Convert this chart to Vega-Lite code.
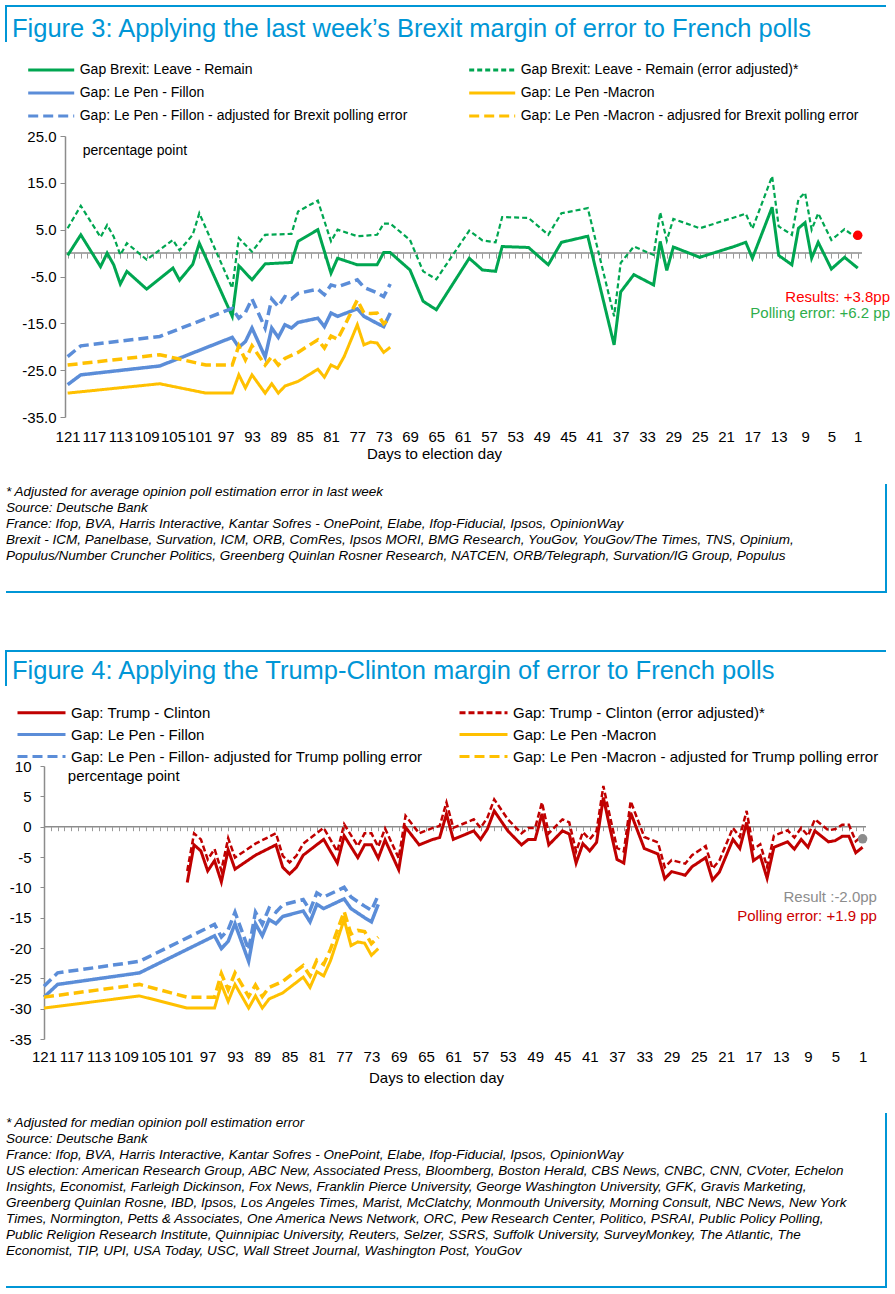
{
  "$schema": "https://vega.github.io/schema/vega-lite/v6.json",
  "padding": {"left": 5, "top": 5, "right": 0, "bottom": 0},
  "background": "#ffffff",
  "config": {
    "font": "Liberation Sans",
    "view": {"stroke": null},
    "mark": {"invalid": "filter"},
    "line": {"invalid": "filter"},
    "axis": {"labelColor": "#000000", "titleColor": "#000000", "labelFont": "Liberation Sans", "titleFont": "Liberation Sans", "grid": false},
    "legend": {"labelFont": "Liberation Sans"},
    "title": {"font": "Liberation Sans"},
    "text": {"font": "Liberation Sans"}
  },
  "datasets": {
    "brexit": [
      {"day":121,"leave":-0.5,"adj":5.3},{"day":119,"leave":3.9,"adj":10.1},{"day":116,"leave":-2.9,"adj":3.4},
      {"day":115,"leave":0.0,"adj":6.0},{"day":114,"leave":-2.5,"adj":3.5},{"day":113,"leave":-6.6,"adj":-0.4},
      {"day":112,"leave":-3.9,"adj":2.1},{"day":109,"leave":-7.7,"adj":-1.4},{"day":105,"leave":-3.2,"adj":2.8},
      {"day":104,"leave":-5.8,"adj":0.6},{"day":102,"leave":-2.4,"adj":3.9},{"day":101,"leave":2.1,"adj":8.5},
      {"day":96,"leave":-13.5,"adj":-7.5},{"day":95,"leave":-2.7,"adj":3.2},{"day":93,"leave":-5.7,"adj":0.3},
      {"day":91,"leave":-2.3,"adj":3.9},{"day":87,"leave":-2.0,"adj":4.1},{"day":86,"leave":2.5,"adj":8.9},
      {"day":83,"leave":5.0,"adj":11.2},{"day":81,"leave":-4.3,"adj":2.5},{"day":80,"leave":-1.1,"adj":5.0},
      {"day":77,"leave":-2.5,"adj":3.6},{"day":74,"leave":-2.5,"adj":3.9},{"day":73,"leave":0.1,"adj":6.3},
      {"day":72,"leave":0.1,"adj":6.3},{"day":69,"leave":-3.6,"adj":2.8},{"day":67,"leave":-10.3,"adj":-3.9},
      {"day":65,"leave":-12.1,"adj":-5.6},{"day":60,"leave":-1.1,"adj":4.8},{"day":58,"leave":-3.6,"adj":2.7},
      {"day":56,"leave":-3.9,"adj":2.3},{"day":55,"leave":1.4,"adj":7.7},{"day":51,"leave":1.2,"adj":7.5},
      {"day":48,"leave":-2.5,"adj":3.9},{"day":46,"leave":2.3,"adj":8.5},{"day":42,"leave":3.6,"adj":9.6},
      {"day":38,"leave":-19.6,"adj":-13.5},{"day":37,"leave":-8.3,"adj":-2.1},{"day":35,"leave":-4.6,"adj":1.4},
      {"day":32,"leave":-6.8,"adj":-0.4},{"day":31,"leave":2.5,"adj":8.7},{"day":30,"leave":-3.7,"adj":2.7},
      {"day":29,"leave":1.3,"adj":7.3},{"day":25,"leave":-0.9,"adj":5.3},{"day":20,"leave":1.3,"adj":7.5},
      {"day":18,"leave":2.3,"adj":8.4},{"day":17,"leave":-1.1,"adj":5.2},{"day":14,"leave":9.8,"adj":16.4},
      {"day":13,"leave":-0.5,"adj":5.7},{"day":11,"leave":-2.5,"adj":3.9},{"day":10,"leave":5.3,"adj":11.5},
      {"day":9,"leave":6.5,"adj":12.9},{"day":8,"leave":-1.1,"adj":5.0},{"day":7,"leave":2.3,"adj":8.5},
      {"day":5,"leave":-3.4,"adj":2.8},{"day":3,"leave":-0.9,"adj":5.1},{"day":1,"leave":-3.2,"adj":3.0}
    ],
    "french": [
      {"day":121,"fillon":-28.1,"macron":-29.9,"fillonB":-22.1,"macronB":-23.9,"fillonT":-26.3,"macronT":-28.1},
      {"day":119,"fillon":-26.0,"fillonB":-19.8,"fillonT":-24.1},
      {"day":107,"fillon":-24.1,"macron":-27.9,"fillonB":-17.8,"macronB":-21.7,"fillonT":-22.2,"macronT":-26.0},
      {"day":100,"macron":-29.9,"macronB":-23.9,"macronT":-28.1},
      {"day":96,"fillon":-18.0,"macron":-29.9,"fillonB":-11.8,"macronB":-23.9,"fillonT":-16.1,"macronT":-28.1},
      {"day":95,"fillon":-20.1,"macron":-26.0,"fillonB":-13.9,"macronB":-19.8,"fillonT":-18.2,"macronT":-24.2},
      {"day":94,"fillon":-18.9,"macron":-28.8,"fillonB":-12.7,"macronB":-22.8,"fillonT":-17.0,"macronT":-26.9},
      {"day":93,"fillon":-16.0,"macron":-26.0,"fillonB":-9.8,"macronB":-19.8,"fillonT":-14.1,"macronT":-24.1},
      {"day":91,"fillon":-22.2,"macron":-29.9,"fillonB":-16.0,"macronB":-23.9,"fillonT":-20.3,"macronT":-28.0},
      {"day":90,"fillon":-16.0,"macron":-27.9,"fillonB":-9.8,"macronB":-22.1,"fillonT":-14.1,"macronT":-26.1},
      {"day":89,"fillon":-18.0,"macron":-29.9,"fillonB":-11.4,"macronB":-23.9,"fillonT":-16.1,"macronT":-28.0},
      {"day":88,"fillon":-15.3,"macron":-28.4,"fillonB":-9.3,"macronB":-22.5,"fillonT":-13.4,"macronT":-26.5},
      {"day":87,"fillon":-16.0,"fillonB":-9.8,"fillonT":-14.1},
      {"day":86,"fillon":-14.8,"macron":-27.4,"fillonB":-8.6,"macronB":-21.2,"fillonT":-12.9,"macronT":-25.5},
      {"day":83,"fillon":-13.9,"macron":-24.8,"fillonB":-7.7,"macronB":-18.5,"fillonT":-12.0,"macronT":-22.9},
      {"day":82,"fillon":-15.7,"macron":-26.5,"fillonB":-8.9,"macronB":-20.3,"fillonT":-13.8,"macronT":-24.6},
      {"day":81,"fillon":-12.8,"macron":-23.9,"fillonB":-6.8,"macronB":-17.7,"fillonT":-10.9,"macronT":-22.0},
      {"day":80,"fillon":-13.5,"macron":-24.6,"fillonB":-7.2,"macronB":-18.4,"fillonT":-11.6,"macronT":-22.7},
      {"day":79,"macron":-22.1,"macronB":-15.7,"macronT":-20.2},
      {"day":77,"fillon":-11.9,"macron":-15.3,"fillonB":-5.7,"macronB":-10.0,"fillonT":-10.0,"macronT":-14.0},
      {"day":76,"fillon":-13.5,"macron":-19.6,"fillonB":-7.3,"macronB":-12.8,"fillonT":-11.6,"macronT":-17.7},
      {"day":75,"macron":-19.0,"macronB":-12.9,"macronT":-17.1},
      {"day":74,"fillon":-15.0,"macron":-19.2,"fillonB":-8.5,"macronB":-12.8,"fillonT":-13.1,"macronT":-17.3},
      {"day":73,"fillon":-15.7,"macron":-21.2,"fillonB":-9.3,"macronB":-15.1,"fillonT":-13.8,"macronT":-19.3},
      {"day":72,"fillon":-12.8,"macron":-20.1,"fillonB":-6.6,"macronB":-13.9,"fillonT":-11.3,"macronT":-18.2}
    ],
    "trump": [
      {"day":100,"gap":-9.2,"adj":-7.3},{"day":99,"gap":-3.0,"adj":-1.1},{"day":98,"gap":-4.0,"adj":-2.1},
      {"day":97,"gap":-7.3,"adj":-5.4},{"day":96,"gap":-5.6,"adj":-3.7},{"day":95,"gap":-9.1,"adj":-7.2},
      {"day":94,"gap":-3.8,"adj":-1.9},{"day":93,"gap":-7.0,"adj":-5.1},{"day":90,"gap":-4.7,"adj":-2.8},
      {"day":87,"gap":-3.0,"adj":-1.1},{"day":86,"gap":-6.7,"adj":-4.8},{"day":85,"gap":-7.8,"adj":-5.9},
      {"day":84,"gap":-6.7,"adj":-4.8},{"day":83,"gap":-4.7,"adj":-2.8},{"day":80,"gap":-2.1,"adj":-0.2},
      {"day":78,"gap":-6.0,"adj":-4.1},{"day":77,"gap":-1.5,"adj":0.4},{"day":75,"gap":-5.1,"adj":-3.2},
      {"day":74,"gap":-3.0,"adj":-1.1},{"day":73,"gap":-3.0,"adj":-1.1},{"day":72,"gap":-5.2,"adj":-3.3},
      {"day":71,"gap":-2.2,"adj":-0.3},{"day":69,"gap":-7.1,"adj":-5.2},{"day":68,"gap":-0.1,"adj":1.8},
      {"day":66,"gap":-3.0,"adj":-1.1},{"day":64,"gap":-2.1,"adj":-0.2},{"day":63,"gap":-1.8,"adj":0.1},
      {"day":62,"gap":2.1,"adj":4.0},{"day":61,"gap":-2.1,"adj":-0.2},{"day":58,"gap":-0.7,"adj":1.2},
      {"day":57,"gap":-2.1,"adj":-0.2},{"day":56,"gap":-0.4,"adj":1.5},{"day":55,"gap":2.6,"adj":4.5},
      {"day":53,"gap":-0.7,"adj":1.2},{"day":51,"gap":-3.0,"adj":-1.1},{"day":50,"gap":-2.1,"adj":-0.2},
      {"day":49,"gap":-2.1,"adj":-0.2},{"day":48,"gap":2.1,"adj":4.0},{"day":47,"gap":-3.0,"adj":-1.1},
      {"day":45,"gap":-0.7,"adj":1.2},{"day":44,"gap":-1.2,"adj":0.7},{"day":43,"gap":-6.0,"adj":-4.1},
      {"day":42,"gap":-2.8,"adj":-0.9},{"day":41,"gap":-4.0,"adj":-2.1},{"day":40,"gap":-2.6,"adj":-0.7},
      {"day":39,"gap":4.8,"adj":6.7},{"day":38,"gap":-0.4,"adj":1.5},{"day":37,"gap":-5.4,"adj":-3.5},
      {"day":36,"gap":-6.0,"adj":-4.1},{"day":35,"gap":2.3,"adj":4.2},{"day":33,"gap":-3.6,"adj":-1.7},
      {"day":31,"gap":-4.5,"adj":-2.6},{"day":30,"gap":-8.6,"adj":-6.7},{"day":29,"gap":-7.4,"adj":-5.5},
      {"day":27,"gap":-8.0,"adj":-6.1},{"day":26,"gap":-6.6,"adj":-4.7},{"day":24,"gap":-5.1,"adj":-3.2},
      {"day":23,"gap":-8.8,"adj":-6.9},{"day":22,"gap":-7.5,"adj":-5.6},{"day":20,"gap":-2.1,"adj":-0.2},
      {"day":19,"gap":-3.6,"adj":-1.7},{"day":18,"gap":0.7,"adj":2.6},{"day":17,"gap":-5.6,"adj":-3.7},
      {"day":16,"gap":-4.8,"adj":-2.9},{"day":15,"gap":-8.5,"adj":-6.6},{"day":14,"gap":-3.4,"adj":-1.5},
      {"day":12,"gap":-2.5,"adj":-0.6},{"day":11,"gap":-3.7,"adj":-1.8},{"day":10,"gap":-2.1,"adj":-0.2},
      {"day":9,"gap":-3.4,"adj":-1.5},{"day":8,"gap":-0.7,"adj":1.2},{"day":6,"gap":-2.5,"adj":-0.6},
      {"day":5,"gap":-2.3,"adj":-0.4},{"day":4,"gap":-1.6,"adj":0.3},{"day":3,"gap":-1.6,"adj":0.3},
      {"day":2,"gap":-4.3,"adj":-2.4},{"day":1,"gap":-3.4,"adj":-1.5}
    ]
  },
  "spacing": 57,
  "resolve": {"scale": {"color": "independent", "strokeDash": "independent"}, "legend": {"color": "independent", "strokeDash": "independent"}},
  "vconcat": [
    {
      "spacing": 0,
      "resolve": {"scale": {"color": "independent", "strokeDash": "independent"}, "legend": {"color": "independent", "strokeDash": "independent"}},
      "vconcat": [
        {
          "width": 880, "height": 50,
          "data": {"values": [{}]},
          "mark": {"type": "text"},
          "encoding": {"text": {"value": ""}},
          "view": {"stroke": "#0096D6", "strokeWidth": 2, "strokeDash": [880, 944, 36], "fill": null},
          "title": {"text": "Figure 3: Applying the last week’s Brexit margin of error to French polls", "anchor": "start", "frame": "group", "orient": "top", "offset": -56.5, "baseline": "alphabetic", "dx": 6, "fontSize": 25.5, "fontWeight": "normal", "color": "#0096D6"}
        },
        {
          "width": 856, "height": 281,
          "resolve": {"axis": {"x": "independent", "y": "independent"}},
          "layer": [
            {
              "data": {"values": [{"a": 121.4, "b": 0.35, "v": 0}]},
              "mark": {"type": "rule", "color": "#8c8c8c", "strokeWidth": 1.5},
              "encoding": {
                "x": {"field": "a", "type": "quantitative", "scale": {"domain": [0.35, 130.36], "reverse": true, "nice": false, "zero": false},
                  "axis": {"orient": "bottom", "offset": -163.9, "labels": false, "ticks": true, "values": [1,2,3,4,5,6,7,8,9,10,11,12,13,14,15,16,17,18,19,20,21,22,23,24,25,26,27,28,29,30,31,32,33,34,35,36,37,38,39,40,41,42,43,44,45,46,47,48,49,50,51,52,53,54,55,56,57,58,59,60,61,62,63,64,65,66,67,68,69,70,71,72,73,74,75,76,77,78,79,80,81,82,83,84,85,86,87,88,89,90,91,92,93,94,95,96,97,98,99,100,101,102,103,104,105,106,107,108,109,110,111,112,113,114,115,116,117,118,119,120,121], "tickSize": 5, "tickColor": "#9a9a9a", "tickWidth": 1, "domain": false, "grid": false, "title": null}},
                "x2": {"field": "b"},
                "y": {"field": "v", "type": "quantitative", "scale": {"domain": [-35, 25], "nice": false, "zero": false}, "axis": null}
              }
            },
            {
              "data": {"name": "brexit"},
              "mark": {"type": "line", "strokeWidth": 3, "invalid": "filter"},
              "encoding": {
                "x": {"field": "day", "type": "quantitative", "scale": {"domain": [0.35, 130.36], "reverse": true, "nice": false, "zero": false},
                  "axis": {"orient": "bottom", "values": [121,117,113,109,105,101,97,93,89,85,81,77,73,69,65,61,57,53,49,45,41,37,33,29,25,21,17,13,9,5,1], "format": "d", "domain": false, "ticks": false, "tickSize": 0, "labelPadding": 12, "labelFontSize": 15, "labelOverlap": false, "labelFlush": false, "labelBound": false, "grid": false, "title": "Days to election day", "titleFontSize": 15, "titleFontWeight": "normal", "titlePadding": 2}},
                "y": {"field": "leave", "type": "quantitative", "scale": {"domain": [-35, 25], "nice": false, "zero": false},
                  "axis": {"orient": "left", "offset": -59, "values": [-35,-25,-15,-5,5,15,25], "labelExpr": "replace(format(datum.value, '.1f'), '−', '-')", "labelFontSize": 15, "labelPadding": 4, "tickSize": 5, "tickColor": "#8c8c8c", "domainColor": "#8c8c8c", "domainWidth": 1.5, "grid": false, "title": null}},
                "color": {"datum": "Gap Brexit: Leave - Remain", "type": "nominal",
                  "scale": {"domain": ["Gap Brexit: Leave - Remain", "Gap: Le Pen - Fillon", "Gap: Le Pen  - Fillon - adjusted for Brexit polling error", "Gap Brexit: Leave - Remain (error adjusted)*", "Gap: Le Pen -Macron", "Gap: Le Pen  -Macron - adjusred for Brexit polling error"], "range": ["#00A651", "#5B8DD8", "#5B8DD8", "#00A651", "#FFC000", "#FFC000"]},
                  "legend": {"orient": "none", "legendX": 20.7, "legendY": -79, "columns": 2, "symbolType": "M-1,0H3", "symbolSize": 529, "symbolStrokeWidth": 3, "labelFontSize": 14, "labelOffset": 27, "labelLimit": 600, "columnPadding": 51, "rowPadding": 3, "padding": 0, "title": null, "labelColor": "#000000"}},
                "strokeDash": {"datum": "Gap Brexit: Leave - Remain", "type": "nominal",
                  "scale": {"domain": ["Gap Brexit: Leave - Remain", "Gap: Le Pen - Fillon", "Gap: Le Pen  - Fillon - adjusted for Brexit polling error", "Gap Brexit: Leave - Remain (error adjusted)*", "Gap: Le Pen -Macron", "Gap: Le Pen  -Macron - adjusred for Brexit polling error"], "range": [[1, 0], [1, 0], [10, 5], [5, 3], [1, 0], [10, 5]]},
                  "legend": {"orient": "none", "legendX": 20.7, "legendY": -79, "columns": 2, "symbolType": "M-1,0H3", "symbolSize": 529, "symbolStrokeWidth": 3, "labelFontSize": 14, "labelOffset": 27, "labelLimit": 600, "columnPadding": 51, "rowPadding": 3, "padding": 0, "title": null, "labelColor": "#000000"}}
              }
            },
            {
              "data": {"name": "brexit"},
              "mark": {"type": "line", "strokeWidth": 2.2, "invalid": "filter"},
              "encoding": {
                "x": {"field": "day", "type": "quantitative", "scale": {"domain": [0.35, 130.36], "reverse": true, "nice": false, "zero": false}, "axis": null},
                "y": {"field": "adj", "type": "quantitative", "scale": {"domain": [-35, 25], "nice": false, "zero": false}, "axis": null},
                "color": {"datum": "Gap Brexit: Leave - Remain (error adjusted)*", "type": "nominal"},
                "strokeDash": {"datum": "Gap Brexit: Leave - Remain (error adjusted)*", "type": "nominal"}
              }
            },
            {
              "data": {"name": "french"},
              "mark": {"type": "line", "strokeWidth": 3.5, "invalid": "filter"},
              "encoding": {
                "x": {"field": "day", "type": "quantitative", "scale": {"domain": [0.35, 130.36], "reverse": true, "nice": false, "zero": false}, "axis": null},
                "y": {"field": "fillon", "type": "quantitative", "scale": {"domain": [-35, 25], "nice": false, "zero": false}, "axis": null},
                "color": {"datum": "Gap: Le Pen - Fillon", "type": "nominal"},
                "strokeDash": {"datum": "Gap: Le Pen - Fillon", "type": "nominal"}
              }
            },
            {
              "data": {"name": "french"},
              "mark": {"type": "line", "strokeWidth": 3, "invalid": "filter"},
              "encoding": {
                "x": {"field": "day", "type": "quantitative", "scale": {"domain": [0.35, 130.36], "reverse": true, "nice": false, "zero": false}, "axis": null},
                "y": {"field": "macron", "type": "quantitative", "scale": {"domain": [-35, 25], "nice": false, "zero": false}, "axis": null},
                "color": {"datum": "Gap: Le Pen -Macron", "type": "nominal"},
                "strokeDash": {"datum": "Gap: Le Pen -Macron", "type": "nominal"}
              }
            },
            {
              "data": {"name": "french"},
              "mark": {"type": "line", "strokeWidth": 3.5, "invalid": "filter"},
              "encoding": {
                "x": {"field": "day", "type": "quantitative", "scale": {"domain": [0.35, 130.36], "reverse": true, "nice": false, "zero": false}, "axis": null},
                "y": {"field": "fillonB", "type": "quantitative", "scale": {"domain": [-35, 25], "nice": false, "zero": false}, "axis": null},
                "color": {"datum": "Gap: Le Pen  - Fillon - adjusted for Brexit polling error", "type": "nominal"},
                "strokeDash": {"datum": "Gap: Le Pen  - Fillon - adjusted for Brexit polling error", "type": "nominal"}
              }
            },
            {
              "data": {"name": "french"},
              "mark": {"type": "line", "strokeWidth": 3.5, "invalid": "filter"},
              "encoding": {
                "x": {"field": "day", "type": "quantitative", "scale": {"domain": [0.35, 130.36], "reverse": true, "nice": false, "zero": false}, "axis": null},
                "y": {"field": "macronB", "type": "quantitative", "scale": {"domain": [-35, 25], "nice": false, "zero": false}, "axis": null},
                "color": {"datum": "Gap: Le Pen  -Macron - adjusred for Brexit polling error", "type": "nominal"},
                "strokeDash": {"datum": "Gap: Le Pen  -Macron - adjusred for Brexit polling error", "type": "nominal"}
              }
            },
            {
              "data": {"values": [{"day": 118.7, "value": 21.8, "label": "percentage point"}]},
              "mark": {"type": "text", "align": "left", "baseline": "middle", "fontSize": 14, "color": "#000000"},
              "encoding": {
                "x": {"field": "day", "type": "quantitative", "scale": {"domain": [0.35, 130.36], "reverse": true, "nice": false, "zero": false}, "axis": null},
                "y": {"field": "value", "type": "quantitative", "scale": {"domain": [-35, 25], "nice": false, "zero": false}, "axis": null},
                "text": {"field": "label"}
              }
            },
            {
              "data": {"values": [{"day": -3.9, "value": -9.4, "label": "Results: +3.8pp"}]},
              "mark": {"type": "text", "align": "right", "baseline": "middle", "fontSize": 15, "color": "#FF0000"},
              "encoding": {
                "x": {"field": "day", "type": "quantitative", "scale": {"domain": [0.35, 130.36], "reverse": true, "nice": false, "zero": false}, "axis": null},
                "y": {"field": "value", "type": "quantitative", "scale": {"domain": [-35, 25], "nice": false, "zero": false}, "axis": null},
                "text": {"field": "label"}
              }
            },
            {
              "data": {"values": [{"day": -3.9, "value": -12.8, "label": "Polling error: +6.2 pp"}]},
              "mark": {"type": "text", "align": "right", "baseline": "middle", "fontSize": 15, "color": "#2EAD4B"},
              "encoding": {
                "x": {"field": "day", "type": "quantitative", "scale": {"domain": [0.35, 130.36], "reverse": true, "nice": false, "zero": false}, "axis": null},
                "y": {"field": "value", "type": "quantitative", "scale": {"domain": [-35, 25], "nice": false, "zero": false}, "axis": null},
                "text": {"field": "label"}
              }
            },
            {
              "data": {"values": [{"day": 1, "value": 3.8}]},
              "mark": {"type": "point", "filled": true, "size": 90, "color": "#FF0000", "opacity": 1},
              "encoding": {
                "x": {"field": "day", "type": "quantitative", "scale": {"domain": [0.35, 130.36], "reverse": true, "nice": false, "zero": false}, "axis": null},
                "y": {"field": "value", "type": "quantitative", "scale": {"domain": [-35, 25], "nice": false, "zero": false}, "axis": null}
              }
            }
          ]
        },
        {
          "width": 880, "height": 130,
          "data": {"values": [{}]},
          "mark": {"type": "text"},
          "encoding": {"text": {"value": ""}},
          "view": {"stroke": "#0096D6", "strokeWidth": 2, "strokeDash": [0, 902, 988, 130], "fill": null},
          "title": {"text": ["* Adjusted for average opinion poll estimation error in last week", "Source: Deutsche Bank", "France: Ifop, BVA, Harris Interactive, Kantar Sofres - OnePoint, Elabe, Ifop-Fiducial, Ipsos, OpinionWay", "Brexit - ICM, Panelbase, Survation, ICM, ORB, ComRes, Ipsos MORI, BMG Research, YouGov, YouGov/The Times, TNS, Opinium,", "Populus/Number Cruncher Politics, Greenberg Quinlan Rosner Research, NATCEN, ORB/Telegraph, Survation/IG Group, Populus"], "anchor": "start", "frame": "group", "orient": "top", "offset": -100.5, "baseline": "top", "lineHeight": 16, "fontSize": 13.5, "fontStyle": "italic", "fontWeight": "normal", "color": "#000000", "dx": 0}
        }
      ]
    },
    {
      "spacing": 0,
      "resolve": {"scale": {"color": "independent", "strokeDash": "independent"}, "legend": {"color": "independent", "strokeDash": "independent"}},
      "vconcat": [
        {
          "width": 880, "height": 47,
          "data": {"values": [{}]},
          "mark": {"type": "text"},
          "encoding": {"text": {"value": ""}},
          "view": {"stroke": "#0096D6", "strokeWidth": 2, "strokeDash": [880, 939, 35], "fill": null},
          "title": {"text": "Figure 4: Applying the Trump-Clinton margin of error to French polls", "anchor": "start", "frame": "group", "orient": "top", "offset": -53, "baseline": "alphabetic", "dx": 6, "fontSize": 25.5, "fontWeight": "normal", "color": "#0096D6"}
        },
        {
          "width": 860, "height": 273,
          "resolve": {"axis": {"x": "independent", "y": "independent"}},
          "layer": [
            {
              "data": {"values": [{"a": 121, "b": 0.5, "v": 0}]},
              "mark": {"type": "rule", "color": "#8c8c8c", "strokeWidth": 1.5},
              "encoding": {
                "x": {"field": "a", "type": "quantitative", "scale": {"domain": [0.5, 126.57], "reverse": true, "nice": false, "zero": false},
                  "axis": {"orient": "bottom", "offset": -212.3, "labels": false, "ticks": true, "values": [1,2,3,4,5,6,7,8,9,10,11,12,13,14,15,16,17,18,19,20,21,22,23,24,25,26,27,28,29,30,31,32,33,34,35,36,37,38,39,40,41,42,43,44,45,46,47,48,49,50,51,52,53,54,55,56,57,58,59,60,61,62,63,64,65,66,67,68,69,70,71,72,73,74,75,76,77,78,79,80,81,82,83,84,85,86,87,88,89,90,91,92,93,94,95,96,97,98,99,100,101,102,103,104,105,106,107,108,109,110,111,112,113,114,115,116,117,118,119,120,121], "tickSize": 4, "tickColor": "#9a9a9a", "tickWidth": 1, "domain": false, "grid": false, "title": null}},
                "x2": {"field": "b"},
                "y": {"field": "v", "type": "quantitative", "scale": {"domain": [-35, 10], "nice": false, "zero": false}, "axis": null}
              }
            },
            {
              "data": {"name": "trump"},
              "mark": {"type": "line", "strokeWidth": 3, "invalid": "filter"},
              "encoding": {
                "x": {"field": "day", "type": "quantitative", "scale": {"domain": [0.5, 126.57], "reverse": true, "nice": false, "zero": false},
                  "axis": {"orient": "bottom", "values": [121,117,113,109,105,101,97,93,89,85,81,77,73,69,65,61,57,53,49,45,41,37,33,29,25,21,17,13,9,5,1], "format": "d", "domain": false, "ticks": false, "tickSize": 0, "labelPadding": 10, "labelFontSize": 15, "labelOverlap": false, "labelFlush": false, "labelBound": false, "grid": false, "title": "Days to election day", "titleFontSize": 15, "titleFontWeight": "normal", "titlePadding": 6}},
                "y": {"field": "gap", "type": "quantitative", "scale": {"domain": [-35, 10], "nice": false, "zero": false},
                  "axis": {"orient": "left", "offset": -38, "values": [-35,-30,-25,-20,-15,-10,-5,0,5,10], "labelExpr": "replace(format(datum.value, 'd'), '−', '-')", "labelFontSize": 15, "labelPadding": 9, "tickSize": 4, "tickColor": "#8c8c8c", "domainColor": "#8c8c8c", "domainWidth": 1.5, "grid": false, "title": null}},
                "color": {"datum": "Gap: Trump - Clinton", "type": "nominal",
                  "scale": {"domain": ["Gap: Trump - Clinton", "Gap: Le Pen - Fillon", "Gap: Le Pen - Fillon- adjusted for Trump polling error", "Gap: Trump - Clinton (error adjusted)*", "Gap: Le Pen -Macron", "Gap: Le Pen -Macron - adjusted for Trump polling error"], "range": ["#C00000", "#5B8DD8", "#5B8DD8", "#C00000", "#FFC000", "#FFC000"]},
                  "legend": {"orient": "none", "legendX": 10, "legendY": -67, "columns": 2, "symbolType": "M-1,0H3", "symbolSize": 576, "symbolStrokeWidth": 3, "labelFontSize": 15, "labelOffset": 28, "labelLimit": 600, "columnPadding": 30, "rowPadding": -4, "padding": 0, "title": null, "labelColor": "#000000"}},
                "strokeDash": {"datum": "Gap: Trump - Clinton", "type": "nominal",
                  "scale": {"domain": ["Gap: Trump - Clinton", "Gap: Le Pen - Fillon", "Gap: Le Pen - Fillon- adjusted for Trump polling error", "Gap: Trump - Clinton (error adjusted)*", "Gap: Le Pen -Macron", "Gap: Le Pen -Macron - adjusted for Trump polling error"], "range": [[1, 0], [1, 0], [10, 5], [6, 3], [1, 0], [10, 5]]},
                  "legend": {"orient": "none", "legendX": 10, "legendY": -67, "columns": 2, "symbolType": "M-1,0H3", "symbolSize": 576, "symbolStrokeWidth": 3, "labelFontSize": 15, "labelOffset": 28, "labelLimit": 600, "columnPadding": 30, "rowPadding": -4, "padding": 0, "title": null, "labelColor": "#000000"}}
              }
            },
            {
              "data": {"name": "trump"},
              "mark": {"type": "line", "strokeWidth": 2.5, "invalid": "filter"},
              "encoding": {
                "x": {"field": "day", "type": "quantitative", "scale": {"domain": [0.5, 126.57], "reverse": true, "nice": false, "zero": false}, "axis": null},
                "y": {"field": "adj", "type": "quantitative", "scale": {"domain": [-35, 10], "nice": false, "zero": false}, "axis": null},
                "color": {"datum": "Gap: Trump - Clinton (error adjusted)*", "type": "nominal"},
                "strokeDash": {"datum": "Gap: Trump - Clinton (error adjusted)*", "type": "nominal"}
              }
            },
            {
              "data": {"name": "french"},
              "mark": {"type": "line", "strokeWidth": 3.5, "invalid": "filter"},
              "encoding": {
                "x": {"field": "day", "type": "quantitative", "scale": {"domain": [0.5, 126.57], "reverse": true, "nice": false, "zero": false}, "axis": null},
                "y": {"field": "fillon", "type": "quantitative", "scale": {"domain": [-35, 10], "nice": false, "zero": false}, "axis": null},
                "color": {"datum": "Gap: Le Pen - Fillon", "type": "nominal"},
                "strokeDash": {"datum": "Gap: Le Pen - Fillon", "type": "nominal"}
              }
            },
            {
              "data": {"name": "french"},
              "mark": {"type": "line", "strokeWidth": 3, "invalid": "filter"},
              "encoding": {
                "x": {"field": "day", "type": "quantitative", "scale": {"domain": [0.5, 126.57], "reverse": true, "nice": false, "zero": false}, "axis": null},
                "y": {"field": "macron", "type": "quantitative", "scale": {"domain": [-35, 10], "nice": false, "zero": false}, "axis": null},
                "color": {"datum": "Gap: Le Pen -Macron", "type": "nominal"},
                "strokeDash": {"datum": "Gap: Le Pen -Macron", "type": "nominal"}
              }
            },
            {
              "data": {"name": "french"},
              "mark": {"type": "line", "strokeWidth": 3.5, "invalid": "filter"},
              "encoding": {
                "x": {"field": "day", "type": "quantitative", "scale": {"domain": [0.5, 126.57], "reverse": true, "nice": false, "zero": false}, "axis": null},
                "y": {"field": "fillonT", "type": "quantitative", "scale": {"domain": [-35, 10], "nice": false, "zero": false}, "axis": null},
                "color": {"datum": "Gap: Le Pen - Fillon- adjusted for Trump polling error", "type": "nominal"},
                "strokeDash": {"datum": "Gap: Le Pen - Fillon- adjusted for Trump polling error", "type": "nominal"}
              }
            },
            {
              "data": {"name": "french"},
              "mark": {"type": "line", "strokeWidth": 3.5, "invalid": "filter"},
              "encoding": {
                "x": {"field": "day", "type": "quantitative", "scale": {"domain": [0.5, 126.57], "reverse": true, "nice": false, "zero": false}, "axis": null},
                "y": {"field": "macronT", "type": "quantitative", "scale": {"domain": [-35, 10], "nice": false, "zero": false}, "axis": null},
                "color": {"datum": "Gap: Le Pen -Macron - adjusted for Trump polling error", "type": "nominal"},
                "strokeDash": {"datum": "Gap: Le Pen -Macron - adjusted for Trump polling error", "type": "nominal"}
              }
            },
            {
              "data": {"values": [{"day": 117.5, "value": 8.35, "label": "percentage point"}]},
              "mark": {"type": "text", "align": "left", "baseline": "middle", "fontSize": 15, "color": "#000000"},
              "encoding": {
                "x": {"field": "day", "type": "quantitative", "scale": {"domain": [0.5, 126.57], "reverse": true, "nice": false, "zero": false}, "axis": null},
                "y": {"field": "value", "type": "quantitative", "scale": {"domain": [-35, 10], "nice": false, "zero": false}, "axis": null},
                "text": {"field": "label"}
              }
            },
            {
              "data": {"values": [{"day": -1.1, "value": -11.6, "label": "Result :-2.0pp"}]},
              "mark": {"type": "text", "align": "right", "baseline": "middle", "fontSize": 15, "color": "#8C8C8C"},
              "encoding": {
                "x": {"field": "day", "type": "quantitative", "scale": {"domain": [0.5, 126.57], "reverse": true, "nice": false, "zero": false}, "axis": null},
                "y": {"field": "value", "type": "quantitative", "scale": {"domain": [-35, 10], "nice": false, "zero": false}, "axis": null},
                "text": {"field": "label"}
              }
            },
            {
              "data": {"values": [{"day": -1.1, "value": -14.7, "label": "Polling error: +1.9 pp"}]},
              "mark": {"type": "text", "align": "right", "baseline": "middle", "fontSize": 15, "color": "#CC0000"},
              "encoding": {
                "x": {"field": "day", "type": "quantitative", "scale": {"domain": [0.5, 126.57], "reverse": true, "nice": false, "zero": false}, "axis": null},
                "y": {"field": "value", "type": "quantitative", "scale": {"domain": [-35, 10], "nice": false, "zero": false}, "axis": null},
                "text": {"field": "label"}
              }
            },
            {
              "data": {"values": [{"day": 1, "value": -2.0}]},
              "mark": {"type": "point", "filled": true, "size": 90, "color": "#8C8C8C", "opacity": 1},
              "encoding": {
                "x": {"field": "day", "type": "quantitative", "scale": {"domain": [0.5, 126.57], "reverse": true, "nice": false, "zero": false}, "axis": null},
                "y": {"field": "value", "type": "quantitative", "scale": {"domain": [-35, 10], "nice": false, "zero": false}, "axis": null}
              }
            }
          ]
        },
        {
          "width": 880, "height": 201,
          "data": {"values": [{}]},
          "mark": {"type": "text"},
          "encoding": {"text": {"value": ""}},
          "view": {"stroke": "#0096D6", "strokeWidth": 2, "strokeDash": [0, 907, 1054, 201], "fill": null},
          "title": {"text": ["* Adjusted for median  opinion poll estimation error", "Source: Deutsche Bank", "France: Ifop, BVA, Harris Interactive, Kantar Sofres - OnePoint, Elabe, Ifop-Fiducial, Ipsos, OpinionWay", "US election: American Research Group, ABC New, Associated Press, Bloomberg, Boston Herald, CBS News, CNBC, CNN, CVoter, Echelon", "Insights, Economist, Farleigh Dickinson, Fox News, Franklin Pierce University, George Washington University, GFK, Gravis Marketing,", "Greenberg Quinlan Rosne, IBD, Ipsos, Los Angeles Times, Marist, McClatchy, Monmouth University, Morning Consult, NBC News, New York", "Times, Normington, Petts & Associates, One America News Network, ORC, Pew Research Center, Politico, PSRAI, Public Policy Polling,", "Public Religion Research Institute, Quinnipiac University, Reuters, Selzer, SSRS, Suffolk University, SurveyMonkey, The Atlantic, The", "Economist, TIP, UPI, USA Today, USC, Wall Street Journal, Washington Post, YouGov"], "anchor": "start", "frame": "group", "orient": "top", "offset": -171, "baseline": "top", "lineHeight": 16, "fontSize": 13.5, "fontStyle": "italic", "fontWeight": "normal", "color": "#000000", "dx": 0}
        }
      ]
    }
  ]
}
